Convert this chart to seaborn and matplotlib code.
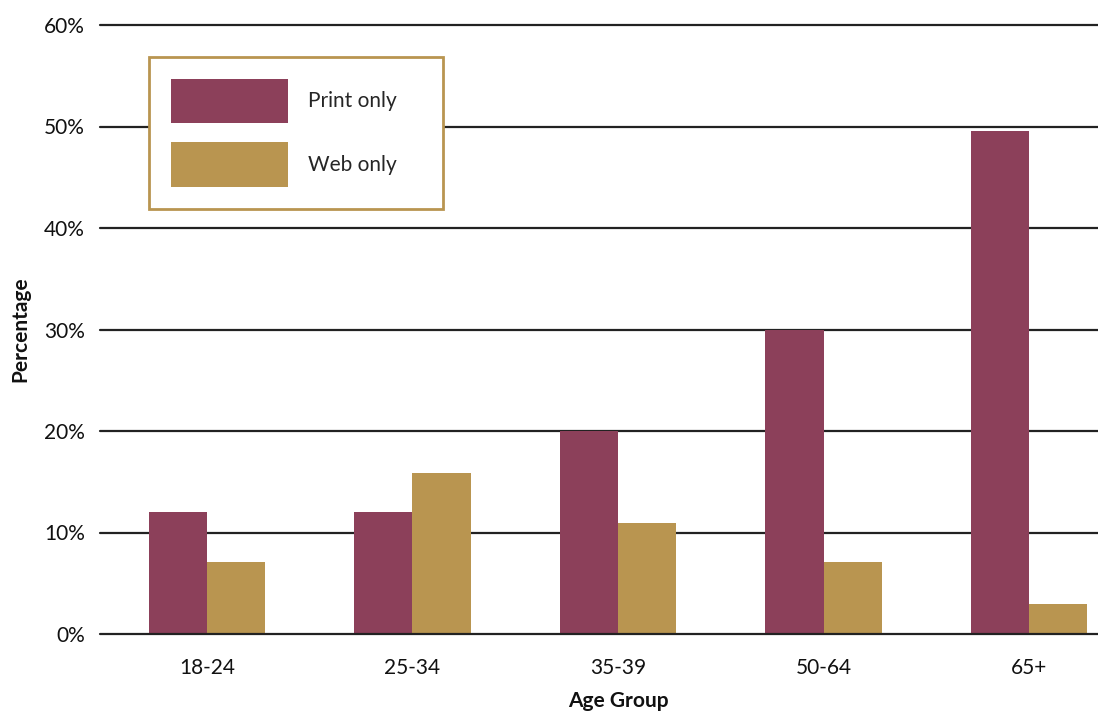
import matplotlib
matplotlib.use("Agg")
import matplotlib.pyplot as plt
import seaborn as sns
import pandas as pd
from matplotlib.ticker import FuncFormatter

age_groups = ["18-24", "25-34", "35-39", "50-64", "65+"]
print_only = [12, 12, 20, 30, 49.6]
web_only = [7.1, 15.9, 10.9, 7.1, 3.0]
series_names = ["Print only", "Web only"]
colors = ["#8C405A", "#B99550"]

df = pd.DataFrame({
    "Age Group": age_groups * 2,
    "Percentage": print_only + web_only,
    "Series": [series_names[0]] * len(age_groups) + [series_names[1]] * len(age_groups),
})

sns.set_theme(style="white")
plt.rcParams["font.family"] = ["Lato", "DejaVu Sans"]

W, H = 1098, 713
fig = plt.figure(figsize=(W / 100, H / 100), dpi=100)
ax_left, ax_right = 100, 1136
ax_top, ax_bottom = 25, 634
ax = fig.add_axes([ax_left / W, (H - ax_bottom) / H, (ax_right - ax_left) / W, (ax_bottom - ax_top) / H])

sns.barplot(data=df, x="Age Group", y="Percentage", hue="Series", palette=colors,
            width=0.565, gap=0, saturation=1, linewidth=0, edgecolor="none",
            ax=ax, zorder=3)

ax.set_xlim(-0.52, 4.52)
ax.set_ylim(0, 60)
ax.set_yticks([0, 10, 20, 30, 40, 50, 60])
ax.yaxis.set_major_formatter(FuncFormatter(lambda v, p: f"{int(v)}%"))
for y in [0, 10, 20, 30, 40, 50, 60]:
    ax.axhline(y, color="#222222", lw=1.6, zorder=2 if y else 4, clip_on=False)
for s in ax.spines.values():
    s.set_visible(False)
ax.tick_params(axis="both", length=0, labelsize=15, colors="#111111")
ax.tick_params(axis="y", pad=11)
ax.tick_params(axis="x", pad=17)
ax.set_xlabel("Age Group", fontsize=15, fontweight="bold", color="#111111", va="center")
ax.xaxis.set_label_coords(0.5, -(701 - ax_bottom) / (ax_bottom - ax_top))
ax.set_ylabel("Percentage", fontsize=15, fontweight="bold", color="#111111", va="center")
ax.yaxis.set_label_coords((20 - ax_left) / (ax_right - ax_left), 0.5)

# legend
lx0 = (149 - ax_left) / (ax_right - ax_left)
lx1 = (443 - ax_left) / (ax_right - ax_left)
ly1 = (ax_bottom - 57) / (ax_bottom - ax_top)
ly0 = (ax_bottom - 206) / (ax_bottom - ax_top)
leg = ax.legend(loc="upper left", bbox_to_anchor=(lx0, ly0, lx1 - lx0, ly1 - ly0),
                mode="expand", borderaxespad=0, frameon=True, fancybox=False,
                fontsize=15, handlelength=5.62, handleheight=2.9, handletextpad=0.96,
                labelspacing=0.92, borderpad=1.05, framealpha=1, title=None)
leg.get_frame().set_edgecolor("#B99550")
leg.get_frame().set_linewidth(2)
leg.set_zorder(10)

fig.savefig("out.png", dpi=100)
